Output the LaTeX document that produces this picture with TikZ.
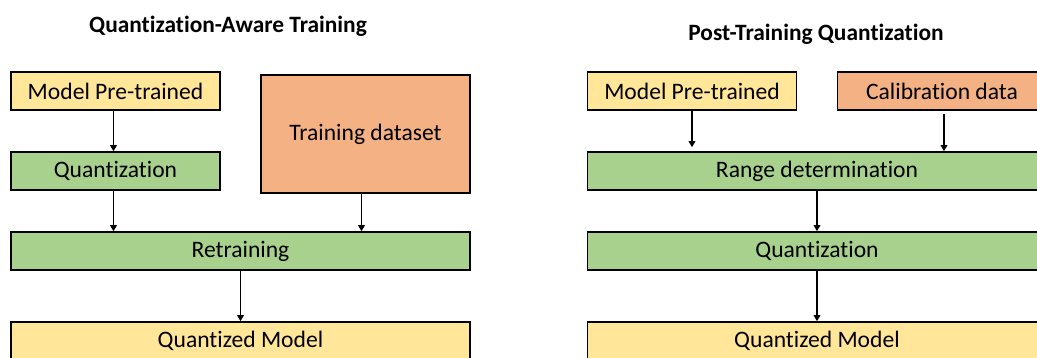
\documentclass[tikz,border=0pt]{standalone}
\usepackage{fontspec}
\setmainfont{Carlito}[Ligatures={NoCommon}]
\usetikzlibrary{arrows.meta}
\definecolor{boxyellow}{HTML}{FFE699}
\definecolor{boxgreen}{HTML}{A9D18E}
\definecolor{boxorange}{HTML}{F4B183}
\tikzset{
  box/.style={draw=black, line width=1.5pt, inner sep=0pt, minimum height=38pt,
    font=\fontsize{23.6}{28}\selectfont},
  narrow/.style={box, minimum width=209pt},
  wide/.style={box, minimum width=459pt},
  arr/.style={draw=black, line width=1.7pt, -{Triangle[length=6pt,width=6.5pt]}},
  title/.style={font=\fontsize{23.4}{28}\selectfont\bfseries}
}
\begin{document}
\begin{tikzpicture}[x=1pt,y=-1pt]
  \clip (0,0) rectangle (1037,358);
  \fill[white] (0,0) rectangle (1037,358);

  % Quantization-aware training
  \node[title] (ltitle) at (228,26) {Quantization-Aware Training};
  \node[narrow, fill=boxyellow] (lmp) at (115.5,91) {Model Pre-trained};
  \node[narrow, fill=boxorange, minimum height=118pt] (ltd) at (365.5,134) {Training dataset};
  \node[narrow, fill=boxgreen] (lq) at (115.5,171) {Quantization};
  \node[wide, fill=boxgreen] (lrt) at (240.5,251) {Retraining};
  \node[wide, fill=boxyellow] (lqm) at (240.5,341) {Quantized Model};

  \coordinate (ltdout) at ([xshift=-4pt]ltd.south);
  \draw[arr] ([xshift=-2pt]lmp.south) -- ([xshift=-2pt]lq.north);
  \draw[arr] ([xshift=-2pt]lq.south) -- ([xshift=-2pt]lq.south |- lrt.north);
  \draw[arr] (ltdout) -- (ltdout |- lrt.north);
  \draw[arr] (lrt.south) -- (lqm.north);

  % Post-training quantization
  \node[title] (rtitle) at (816,34) {Post-Training Quantization};
  \node[narrow, fill=boxyellow] (rmp) at (692,91) {Model Pre-trained};
  \node[narrow, fill=boxorange] (rcd) at (942,91) {Calibration data};
  \node[wide, fill=boxgreen] (rrd) at (817,171) {Range determination};
  \node[wide, fill=boxgreen] (rq) at (817,251) {Quantization};
  \node[wide, fill=boxyellow] (rqm) at (817,341) {Quantized Model};

  \coordinate (rcdout) at ([xshift=2pt]rcd.south);
  \draw[arr, shorten >=4pt] (rmp.south) -- (rmp.south |- rrd.north);
  \draw[arr, shorten <=3pt] (rcdout) -- (rcdout |- rrd.north);
  \draw[arr] (rrd.south) -- (rq.north);
  \draw[arr] (rq.south) -- (rqm.north);
\end{tikzpicture}
\end{document}
